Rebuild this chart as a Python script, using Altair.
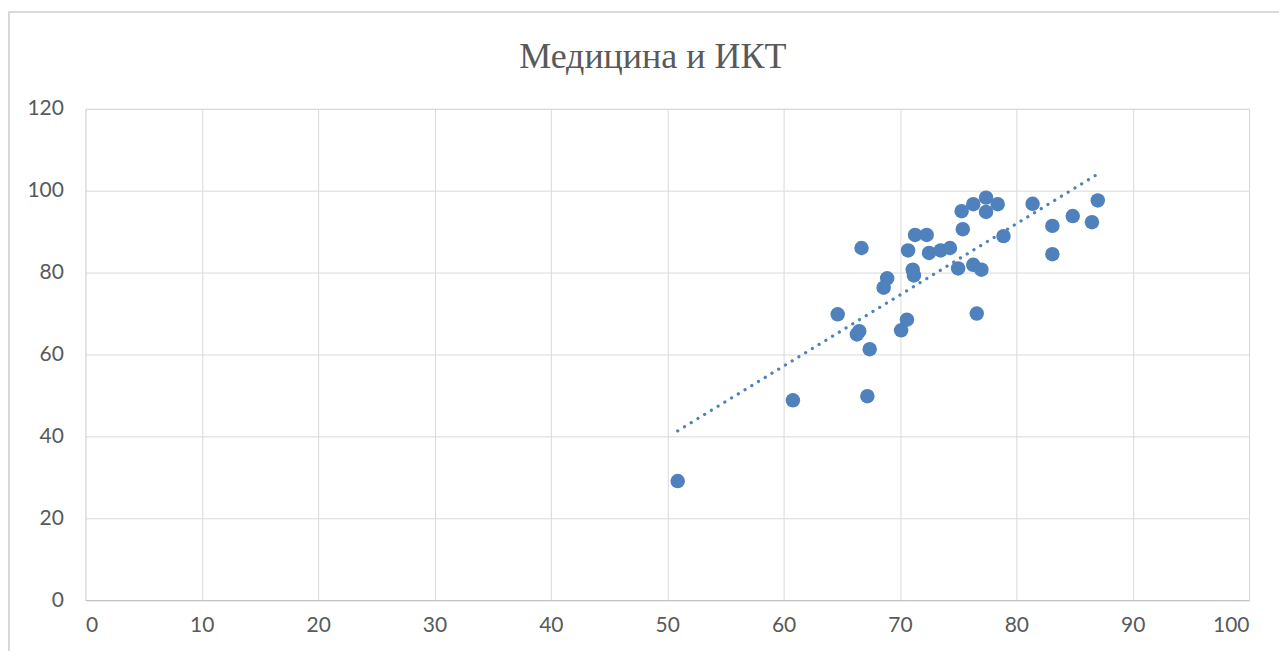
import altair as alt
import pandas as pd

x_vals = [50.9, 60.8, 67.2, 66.7, 64.65, 66.5, 66.3, 67.4, 68.9, 68.6,
          70.6, 70.1, 70.7, 71.1, 71.2, 71.3, 72.3, 72.5, 73.5, 74.3,
          75.3, 76.3, 77.4, 77.4, 78.4, 75.4, 75.0, 76.3, 77.0, 76.6,
          78.9, 81.4, 83.1, 83.1, 84.85, 86.5, 87.0]
y_vals = [29.1, 48.8, 49.8, 86.0, 69.8, 65.7, 64.9, 61.3, 78.6, 76.3,
          68.5, 65.9, 85.4, 80.7, 79.3, 89.2, 89.2, 84.8, 85.4, 86.0,
          95.0, 96.7, 98.3, 94.8, 96.7, 90.6, 81.0, 81.9, 80.7, 70.0,
          88.9, 96.8, 91.4, 84.5, 93.8, 92.3, 97.6]
title_text = ["Медицина и ИКТ"]

df = pd.DataFrame({"x": x_vals, "y": y_vals})
tdf = pd.DataFrame({"t": title_text})

COLOR = "#4F81BD"
LABEL_FONT = "Lato"

xs = alt.Scale(domain=[0, 100], nice=False, zero=False)
ys = alt.Scale(domain=[0, 120], nice=False, zero=False)

xaxis = alt.Axis(values=list(range(0, 101, 10)), title=None, grid=True,
                 gridColor="#d9d9d9", gridWidth=1, domainColor="#bfbfbf",
                 domainWidth=1, ticks=False, labelFont=LABEL_FONT,
                 labelFontSize=21, labelColor="#595959", labelPadding=14)
yaxis = alt.Axis(values=list(range(0, 121, 20)), title=None, grid=True,
                 gridColor="#d9d9d9", gridWidth=1, domain=False,
                 ticks=False, labelFont=LABEL_FONT, labelFontSize=21,
                 labelColor="#595959", labelPadding=22)

frame = alt.Chart(df).mark_rect(fill=None, stroke="#d9d9d9", strokeWidth=1.5).encode(
    x=alt.value(-76.5), x2=alt.value(1213.5), y=alt.value(-96.5), y2=alt.value(570)
)

title = alt.Chart(tdf).mark_text(
    font="Liberation Serif", fontSize=36, color="#595959",
    align="center", baseline="alphabetic"
).encode(text="t:N", x=alt.value(568), y=alt.value(-41))

points = alt.Chart(df).mark_circle(size=210, color=COLOR, opacity=1).encode(
    x=alt.X("x:Q", scale=xs, axis=xaxis),
    y=alt.Y("y:Q", scale=ys, axis=yaxis),
)

trend = alt.Chart(df).transform_regression("x", "y").mark_line(
    color=COLOR, strokeWidth=3.2, strokeDash=[0.1, 7.8], strokeCap="round"
).encode(
    x=alt.X("x:Q", scale=xs),
    y=alt.Y("y:Q", scale=ys),
)

chart = alt.layer(frame, title, trend, points).properties(
    width=1165,
    height=492,
    autosize=alt.AutoSizeParams(type="none"),
    padding={"left": 77.5, "top": 100.5, "right": 30, "bottom": 50},
).configure_view(stroke=None).configure(background="white")

chart.save("out.html", embed_options={"renderer": "svg", "actions": False})
